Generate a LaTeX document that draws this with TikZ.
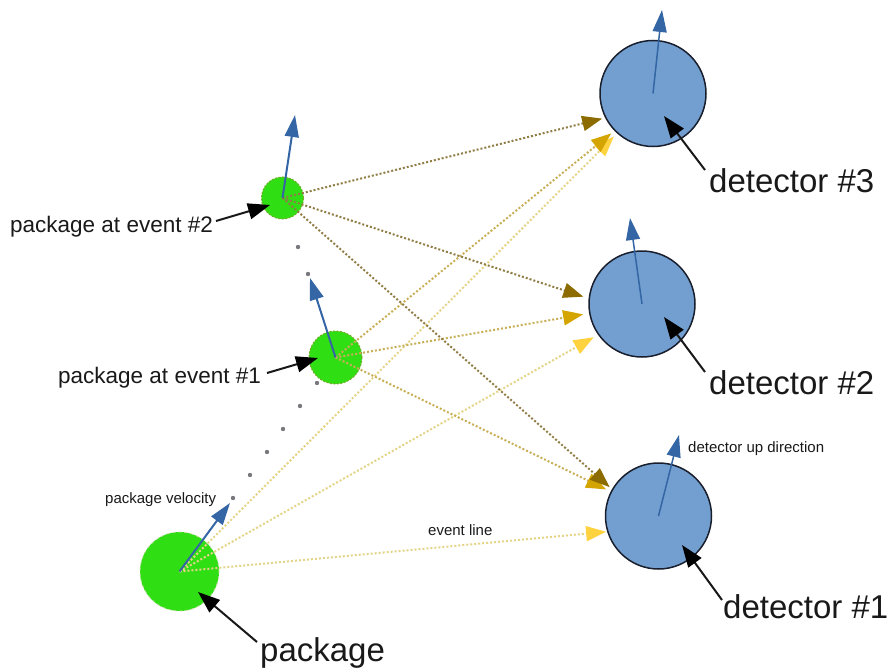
\documentclass[tikz,border=0pt]{standalone}
\usepackage{fontspec}
\setmainfont{Liberation Sans}
\usetikzlibrary{arrows.meta}
\definecolor{pkggreen}{RGB}{48,222,20}
\definecolor{pkgedge}{RGB}{120,170,40}
\definecolor{detblue}{RGB}{114,159,207}
\definecolor{detedge}{RGB}{25,30,45}
\definecolor{velblue}{RGB}{52,101,164}
\definecolor{tipdark}{RGB}{140,108,0}
\definecolor{tipgold}{RGB}{212,165,0}
\definecolor{tiplight}{RGB}{255,211,64}
\definecolor{linedark}{RGB}{145,125,70}
\definecolor{linegold}{RGB}{200,175,85}
\definecolor{linelight}{RGB}{228,212,135}
\definecolor{dotgray}{RGB}{120,120,125}
\definecolor{txt}{RGB}{25,25,25}
\tikzset{
  pkgcircle/.style={circle, fill=pkggreen, draw=pkgedge!40, line width=0.8pt, dashed, inner sep=0pt},
  evcircle/.style={circle, fill=pkggreen, draw=pkgedge, line width=1pt, dash pattern=on 2pt off 1.5pt, inner sep=0pt},
  detcircle/.style={circle, fill=detblue, draw=detedge, line width=1.5pt, inner sep=0pt, minimum size=106pt},
  evdark/.style={draw=linedark, line width=2pt, dash pattern=on 2pt off 2pt, shorten >=4pt,
    -{Triangle[length=20pt,width=15pt,color=tipdark]}},
  evgold/.style={draw=linegold, line width=2pt, dash pattern=on 2pt off 2pt, shorten >=4pt,
    -{Triangle[length=20pt,width=15pt,color=tipgold]}},
  evlight/.style={draw=linelight, line width=2pt, dash pattern=on 2pt off 2pt, shorten >=4pt,
    -{Triangle[length=20pt,width=15pt,color=tiplight]}},
  velarrow/.style={draw=velblue, line width=2pt, -{Triangle[length=22pt,width=14pt,color=velblue]}},
  uparrow/.style={draw=velblue, line width=1.5pt, -{Triangle[length=22pt,width=14pt,color=velblue]}},
  pointer/.style={draw=txt, line width=2pt, -{Triangle[length=22pt,width=16pt,color=black]}},
  biglabel/.style={anchor=base west, inner sep=0pt, text=txt, font=\fontsize{33}{40}\selectfont},
  midlabel/.style={anchor=base west, inner sep=0pt, text=txt, font=\fontsize{22.5}{27}\selectfont},
  smalllabel/.style={anchor=base west, inner sep=0pt, text=txt, font=\fontsize{15}{18}\selectfont},
}
\begin{document}
\begin{tikzpicture}[x=1pt,y=-1pt]
\useasboundingbox (0,0) rectangle (894,669);

% trajectory dots
\foreach \p in {(298,247),(308,274),(317,383),(300,406),(283,429),(267,452),(250,475),(233,498)}
  \fill[dotgray] \p circle (2.2);

% circles
\node[pkgcircle, minimum size=79pt] (pkg) at (179.5,571.5) {};
\node[evcircle, minimum size=53pt] (ev1) at (335.5,357.5) {};
\node[evcircle, minimum size=42pt] (ev2) at (282.5,198) {};
\node[detcircle] (det3) at (653,93.5) {};
\node[detcircle] (det2) at (642,304) {};
\node[detcircle] (det1) at (658.5,516) {};

% event lines
\draw[evlight, shorten >=1pt] (pkg.center) -- (det1.197);
\draw[evlight, shorten >=5pt] (pkg.center) -- (det2.215);
\draw[evlight, shorten >=4.5pt] (pkg.center) -- (det3.228);
\draw[evgold, shorten >=5pt] (ev1.center) -- (det1.153);
\draw[evgold, shorten >=6pt] (ev1.center) -- (det2.190);
\draw[evgold, shorten >=4pt] (ev1.center) -- (det3.224);
\draw[evdark, shorten >=3pt] (ev2.center) -- (det1.150);
\draw[evdark, shorten >=5.5pt] (ev2.center) -- (det2.174);
\draw[evdark, shorten >=3pt] (ev2.center) -- (det3.207);

% velocity arrows
\coordinate (pkgv) at (230,503);
\coordinate (ev1v) at (310,278);
\coordinate (ev2v) at (295,115);
\draw[velarrow] (pkg.center) -- (pkgv);
\draw[velarrow] (ev1.center) -- (ev1v);
\draw[velarrow] (ev2.center) -- (ev2v);

% detector up arrows
\coordinate (det3u) at (662,10);
\coordinate (det2u) at (630,218);
\coordinate (det1u) at (679,435);
\draw[uparrow] (det3.center) -- (det3u);
\draw[uparrow] (det2.center) -- (det2u);
\draw[uparrow] (det1.center) -- (det1u);

% labels
\node[biglabel] (lpkg) at (260,661) {package};
\node[biglabel] (ldet3) at (709,192) {detector \#3};
\node[biglabel] (ldet2) at (709,394) {detector \#2};
\node[biglabel] (ldet1) at (723,618) {detector \#1};
\node[midlabel] (lev2) at (10,232) {package at event \#2};
\node[midlabel] (lev1) at (58,383) {package at event \#1};
\node[smalllabel] (lvel) at (105,503) {package velocity};
\node[smalllabel] (lline) at (428,535) {event line};
\node[smalllabel] (lup) at (688,452) {detector up direction};

% pointers
\coordinate (ppkgA) at (257,642); \coordinate (ppkgB) at (198,592);
\coordinate (pd3A) at (705,170);  \coordinate (pd3B) at (664,116);
\coordinate (pd2A) at (705,372);  \coordinate (pd2B) at (664,317);
\coordinate (pd1A) at (722,600);  \coordinate (pd1B) at (682,545);
\coordinate (pe2A) at (216,221);  \coordinate (pe2B) at (270,205);
\coordinate (pe1A) at (267,373);  \coordinate (pe1B) at (318,358);
\draw[pointer] (ppkgA) -- (ppkgB);
\draw[pointer] (pd3A) -- (pd3B);
\draw[pointer] (pd2A) -- (pd2B);
\draw[pointer] (pd1A) -- (pd1B);
\draw[pointer] (pe2A) -- (pe2B);
\draw[pointer] (pe1A) -- (pe1B);
\end{tikzpicture}
\end{document}
